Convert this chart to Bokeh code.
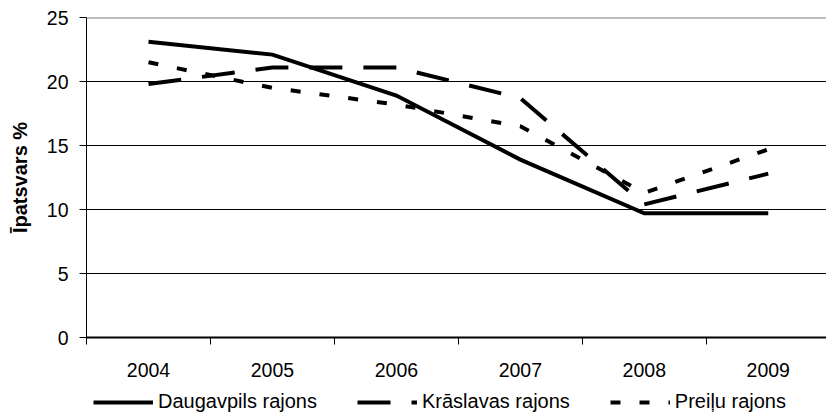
from bokeh.plotting import figure
from bokeh.layouts import column
from bokeh.models import FixedTicker, Range1d, Legend, LegendItem, Span
from bokeh.embed import file_html
from bokeh.resources import INLINE

years = ["2004", "2005", "2006", "2007", "2008", "2009"]
daugavpils = [23.1, 22.1, 18.9, 13.9, 9.7, 9.7]
kraslavas = [19.8, 21.1, 21.1, 18.7, 10.4, 12.8]
preilu = [21.5, 19.5, 18.2, 16.5, 11.3, 14.7]
series_names = ["Daugavpils rajons", "Krāslavas rajons", "Preiļu rajons"]
y_ticks = [0, 5, 10, 15, 20, 25]

FONT = "Liberation Sans"
DASHES = [None, "33 21", "10 19"]

xs = [i + 0.5 for i in range(len(years))]
bounds = list(range(len(years) + 1))
series = [daugavpils, kraslavas, preilu]

p = figure(frame_width=740, frame_height=320,
           x_range=Range1d(0, 5.97), y_range=Range1d(0, 25),
           output_backend="svg", toolbar_location=None,
           min_border_left=86, min_border_right=0, min_border_top=17,
           min_border_bottom=40)
p.outline_line_color = None
p.background_fill_color = "white"

for vals, dash in zip(series, DASHES):
    if dash is None:
        p.line(xs, vals, line_color="black", line_width=4, line_join="miter")
    else:
        p.line(xs, vals, line_color="black", line_width=4, line_dash=dash)

# grid
p.xgrid.visible = False
p.ygrid.ticker = FixedTicker(ticks=y_ticks[1:-1])
p.ygrid.grid_line_color = "black"
p.ygrid.grid_line_width = 1
p.add_layout(Span(location=y_ticks[-1], dimension="width", line_color="#808080", line_width=2))

# x axis
p.xaxis.ticker = FixedTicker(ticks=xs, minor_ticks=bounds)
p.xaxis.major_label_overrides = {x: y for x, y in zip(xs, years)}
p.xaxis.major_tick_out = 0
p.xaxis.major_tick_in = 0
p.xaxis.minor_tick_out = 7
p.xaxis.minor_tick_in = 0
p.xaxis.minor_tick_line_color = "black"
p.xaxis.axis_line_color = "black"
p.xaxis.axis_line_width = 2
p.xaxis.major_label_standoff = 18
p.xaxis.major_label_text_font = FONT
p.xaxis.major_label_text_font_size = "19.5px"
p.xaxis.major_label_text_color = "black"
p.xaxis.major_label_text_line_height = 1.0
p.xaxis.axis_label_standoff = 0

# y axis
p.yaxis.ticker = FixedTicker(ticks=y_ticks)
p.yaxis.major_tick_out = 7
p.yaxis.major_tick_in = 0
p.yaxis.minor_tick_line_color = None
p.yaxis.major_tick_line_color = "black"
p.yaxis.axis_line_color = "black"
p.yaxis.major_label_standoff = 11
p.yaxis.major_label_text_font = FONT
p.yaxis.major_label_text_font_size = "19.5px"
p.yaxis.major_label_text_color = "black"
p.yaxis.axis_label = "Īpatsvars %"
p.yaxis.axis_label_text_font = FONT
p.yaxis.axis_label_text_font_size = "20px"
p.yaxis.axis_label_text_font_style = "bold"
p.yaxis.axis_label_text_color = "black"
p.yaxis.axis_label_standoff = 13

# legend strip below the chart (its own small frame so nothing clips it)
q = figure(frame_width=740, frame_height=36,
           x_range=Range1d(0, 5.97), y_range=Range1d(100, 101),
           output_backend="svg", toolbar_location=None,
           x_axis_type=None, y_axis_type=None,
           min_border_left=86, min_border_right=0, min_border_top=0,
           min_border_bottom=0)
q.outline_line_color = None
q.xgrid.visible = False
q.ygrid.visible = False
q.background_fill_color = "white"

items = []
for name, vals, dash in zip(series_names, series, DASHES):
    if dash is None:
        r = q.line(xs, vals, line_color="black", line_width=4)
    else:
        r = q.line(xs, vals, line_color="black", line_width=4, line_dash=dash)
    items.append(LegendItem(label=name, renderers=[r]))

legend = Legend(items=items, orientation="horizontal", location=(7, 2),
                glyph_width=60, glyph_height=20, label_height=20,
                label_standoff=5, spacing=40,
                padding=0, margin=0, border_line_color=None,
                background_fill_alpha=0,
                label_text_font=FONT, label_text_font_size="20px",
                label_text_line_height=1.0,
                label_text_color="black")
q.add_layout(legend)

layout = column(p, q, spacing=0)
open("out.html", "w").write(file_html(layout, INLINE))
